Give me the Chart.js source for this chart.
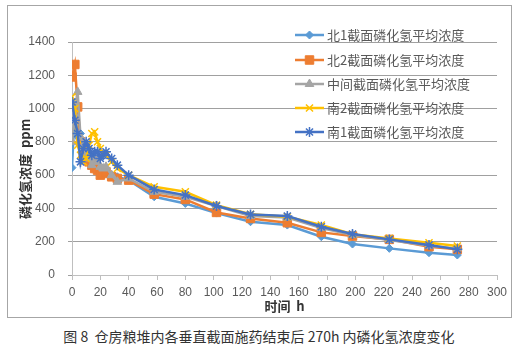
<!DOCTYPE html>
<html>
<head>
<meta charset="utf-8">
<script src="https://cdn.jsdelivr.net/npm/chart.js@4/dist/chart.umd.min.js"></script>
<style>
  body { margin: 0; background: #fff; width: 518px; height: 347px; position: relative; overflow: hidden; }
  #frame { position: absolute; left: 7px; top: 5px; width: 505px; height: 313px; border: 1px solid #a6a6a6; box-sizing: border-box; }
  #wrap { position: absolute; left: 0; top: 0; width: 518px; height: 320px; }
  #caption { position: absolute; left: 0; top: 326px; width: 518px; text-align: center;
    font: 14px "Noto Sans CJK SC", sans-serif; color: #333; }
</style>
</head>
<body>
<div id="frame"></div>
<div id="wrap"><canvas id="chart" width="518" height="320"></canvas></div>
<div id="caption">图 8&nbsp; 仓房粮堆内各垂直截面施药结束后 270h 内磷化氢浓度变化</div>
<script>
// sampling times (h)
const times = [0, 2, 4, 6, 8, 10, 12, 14, 16, 18, 20, 22, 24, 28, 32, 40, 58, 80, 102, 126, 152, 176, 198, 224, 252, 272];

const seriesNames = [
  "北1截面磷化氢平均浓度",
  "北2截面磷化氢平均浓度",
  "中间截面磷化氢平均浓度",
  "南2截面磷化氢平均浓度",
  "南1截面磷化氢平均浓度"
];

const north1 = [645, 1000, 830, 850, 780, 760, 720, 700, 690, 660, 650, 640, 620, 600, 590, 570, 470, 430, 372, 320, 300, 230, 186, 160, 134, 120];
const north2 = [1190, 1265, 1010, 800, 720, 700, 680, 660, 640, 630, 600, 610, 620, 590, 580, 570, 486, 454, 376, 340, 314, 256, 234, 214, 170, 154];
const middle = [800, 960, 1100, 830, 780, 720, 700, 660, 700, 680, 650, 640, 650, 600, 560, 580, 500, 470, 415, 355, 345, 282, 240, 210, 175, 160];
const south2 = [1070, 1000, 780, 720, 680, 700, 780, 850, 860, 800, 760, 730, 720, 680, 640, 600, 530, 500, 420, 365, 350, 300, 245, 220, 194, 174];
const south1 = [1040, 930, 850, 680, 760, 800, 760, 720, 740, 740, 700, 720, 740, 700, 660, 600, 514, 480, 415, 364, 354, 290, 246, 214, 180, 154];

const xTickMax = 300;
const yTickMax = 1400;

const colors = ["#5B9BD5", "#ED7D31", "#A5A5A5", "#FFC000", "#4472C4"];
const markers = ["rectRot", "rect", "triangle", "crossRot", "star"];
const markerSize = [4, 6, 5, 5, 5];

const allValues = [north1, north2, middle, south2, south1];

const datasets = allValues.map((vals, i) => ({
  label: seriesNames[i],
  data: times.map((t, k) => ({ x: t, y: vals[k] })),
  borderColor: colors[i],
  backgroundColor: colors[i],
  borderWidth: 2.5,
  pointStyle: markers[i],
  pointRadius: markerSize[i],
  pointBorderWidth: (markers[i] === "crossRot" || markers[i] === "star") ? 1.5 : 1,
  pointBorderColor: colors[i],
  pointBackgroundColor: colors[i],
  tension: 0,
  order: 5 - i
}));

// legend drawn over the plot, like the original
const sideLegend = {
  id: "sideLegend",
  afterDraw(chart) {
    const ctx = chart.ctx;
    const rows = [35, 60, 84, 108, 132];
    ctx.save();
    chart.data.datasets.forEach((ds, i) => {
      const y = rows[i];
      ctx.strokeStyle = ds.borderColor;
      ctx.lineWidth = 2.5;
      ctx.beginPath();
      ctx.moveTo(295, y);
      ctx.lineTo(324, y);
      ctx.stroke();
      ctx.fillStyle = ds.backgroundColor;
      ctx.lineWidth = ds.pointBorderWidth;
      Chart.helpers.drawPoint(ctx, {
        pointStyle: ds.pointStyle,
        radius: ds.pointRadius,
        borderWidth: ds.pointBorderWidth,
        rotation: 0
      }, 309.5, y);
      ctx.fillStyle = "#595959";
      ctx.font = '13px "Noto Sans CJK SC", sans-serif';
      ctx.textBaseline = "middle";
      ctx.textAlign = "left";
      ctx.fillText(ds.label, 327, y);
    });
    ctx.restore();
  }
};

new Chart(document.getElementById("chart").getContext("2d"), {
  type: "line",
  data: { datasets: datasets },
  options: {
    responsive: false,
    animation: false,
    layout: { padding: { left: 7, right: 21, top: 42, bottom: 2 } },
    plugins: { legend: { display: false }, tooltip: { enabled: false } },
    scales: {
      x: {
        type: "linear",
        min: 0,
        max: xTickMax,
        afterFit: (s) => { s.height = 43; },
        ticks: { stepSize: 20, color: "#595959", padding: 5, maxRotation: 0,
          callback: (v) => String(v),
          font: { family: "Liberation Sans", size: 12 } },
        grid: { drawOnChartArea: false, drawTicks: true, tickLength: 5, color: "#bfbfbf" },
        border: { color: "#bfbfbf", width: 1 },
        title: { display: true, text: "时间  h", color: "#333",
          font: { family: "Noto Sans CJK SC", size: 13, weight: "bold" }, padding: { top: 0, bottom: 4 } }
      },
      y: {
        min: 0,
        max: yTickMax,
        afterFit: (s) => { s.width = 65; },
        ticks: { stepSize: 200, color: "#595959", padding: 13,
          callback: (v) => String(v),
          font: { family: "Liberation Sans", size: 12 } },
        grid: { color: "#a0a0a0", lineWidth: 1, tickLength: 4 },
        border: { display: true, color: "#bfbfbf" },
        title: { display: true, text: "磷化氢浓度  ppm       ", color: "#333",
          font: { family: "Noto Sans CJK SC", size: 13, weight: "bold" }, padding: { top: 10, bottom: 0 } }
      }
    }
  },
  plugins: [sideLegend]
});
</script>
</body>
</html>
